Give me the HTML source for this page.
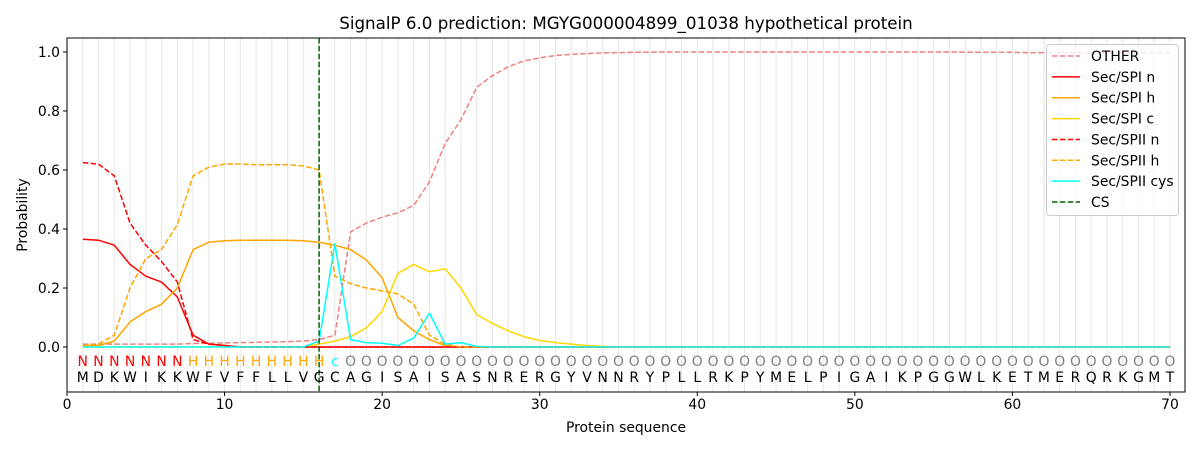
<!DOCTYPE html>
<html><head><meta charset="utf-8"><style>body{margin:0;background:#fff}svg{display:block;font-family:"DejaVu Sans","Liberation Sans",sans-serif}</style></head>
<body><svg id="s" width="1200" height="450" xmlns="http://www.w3.org/2000/svg"></svg>
<script>
const L=67,R=1185,T=38,B=392,F=13.9;
const X=v=>67+v*15.757, Y=v=>347-v*295;
let h='';
h+=`<rect x="0" y="0" width="1200" height="450" fill="#fff"/>`;
for(let i=1;i<=70;i++)h+=`<line x1="${X(i)}" y1="${T}" x2="${X(i)}" y2="${B}" stroke="#e6e6e6" stroke-width="1"/>`;
function ext(a,n){while(a.length<n)a.push(a[a.length-1]);return a;}
const other=ext([0.01,0.01,0.01,0.01,0.01,0.01,0.01,0.012,0.013,0.014,0.015,0.016,0.017,0.018,0.02,0.025,0.04,0.39,0.42,0.44,0.455,0.48,0.56,0.69,0.77,0.88,0.92,0.95,0.97,0.98,0.988,0.992,0.995,0.997,0.998,0.999,0.999,1,1,1,1,1,1,1,1,1,1,1,1,1,1,1,1,1,1,1,0.999,0.999,0.999,0.999,0.998,0.998,0.998,0.998,0.998,0.998,0.997,0.997,0.997,0.997],70);
const spin=ext([0.365,0.362,0.345,0.28,0.24,0.22,0.17,0.04,0.01,0.005,0],70);
const spih=ext([0.005,0.005,0.02,0.085,0.12,0.145,0.2,0.33,0.355,0.36,0.362,0.362,0.362,0.362,0.36,0.355,0.345,0.33,0.295,0.235,0.1,0.055,0.025,0.005,0],70);
const spic=ext([0,0,0,0,0,0,0,0,0,0,0,0,0,0,0,0.01,0.02,0.035,0.065,0.12,0.25,0.28,0.255,0.265,0.2,0.11,0.08,0.055,0.035,0.022,0.015,0.01,0.005,0.002,0],70);
const spiin=ext([0.625,0.62,0.58,0.42,0.345,0.29,0.22,0.025,0.01,0.005,0],70);
const spiih=ext([0.005,0.01,0.04,0.2,0.3,0.33,0.415,0.58,0.61,0.62,0.62,0.618,0.618,0.618,0.614,0.6,0.24,0.215,0.2,0.19,0.18,0.145,0.04,0.01,0],70);
const cys=ext([0,0,0,0,0,0,0,0,0,0,0,0,0,0,0,0.02,0.35,0.025,0.015,0.013,0.005,0.03,0.115,0.01,0.015,0.002,0],70);
function line(d,c,dash){let p=d.map((v,i)=>`${X(i+1).toFixed(1)},${Y(v).toFixed(1)}`).join(' ');
return `<polyline points="${p}" fill="none" stroke="${c}" stroke-width="1.5" ${dash?'stroke-dasharray="5.5,2.4"':''} stroke-linejoin="round"/>`;}
h+=line(other,'#f08080',1)+line(spin,'#ff0000')+line(spih,'#ffa500')+line(spic,'#ffd700')+line(spiin,'#ff0000',1)+line(spiih,'#ffa500',1)+line(cys,'#00ffff');
h+=`<line x1="${X(16)}" y1="${T}" x2="${X(16)}" y2="${B}" stroke="#006400" stroke-width="1.5" stroke-dasharray="5.5,2.4"/>`;
const seq="MDKWIKKWFVFFLLVGCAGISAISASNRERGYVNNRYPLLRKPYMELPIGAIKPGGWLKETMERQRKGMT";
for(let i=0;i<70;i++){let lab,c;if(i<7){lab='N';c='#ff0000'}else if(i<16){lab='H';c='#ffa500'}else if(i==16){lab='c';c='#00ffff'}else{lab='O';c='#808080'}
h+=`<text x="${X(i+1)}" y="366" font-size="${F}" fill="${c}" text-anchor="middle">${lab}</text>`;
h+=`<text x="${X(i+1)}" y="382" font-size="${F}" fill="#000" text-anchor="middle">${seq[i]}</text>`;}
h+=`<rect x="${L}" y="${T}" width="${R-L}" height="${B-T}" fill="none" stroke="#000" stroke-width="1"/>`;
for(let v=0;v<=70;v+=10){h+=`<line x1="${X(v)}" y1="${B}" x2="${X(v)}" y2="${B+4}" stroke="#000"/><text x="${X(v)}" y="${B+17}" font-size="${F}" text-anchor="middle">${v}</text>`;}
for(let k=0;k<=5;k++){let v=k*0.2;h+=`<line x1="${L-4}" y1="${Y(v)}" x2="${L}" y2="${Y(v)}" stroke="#000"/><text x="${L-7}" y="${Y(v)+5}" font-size="${F}" text-anchor="end">${v.toFixed(1)}</text>`;}
h+=`<text x="626" y="432" font-size="${F}" text-anchor="middle">Protein sequence</text>`;
h+=`<text transform="translate(27,215) rotate(-90)" font-size="${F}" text-anchor="middle">Probability</text>`;
h+=`<text x="626" y="29" font-size="16.7" text-anchor="middle">SignalP 6.0 prediction: MGYG000004899_01038 hypothetical protein</text>`;
h+=`<rect x="1046.5" y="44.5" width="132" height="171" rx="3" fill="#fff" fill-opacity="0.8" stroke="#ccc"/>`;
const lg=[['OTHER','#f08080',1],['Sec/SPI n','#ff0000'],['Sec/SPI h','#ffa500'],['Sec/SPI c','#ffd700'],['Sec/SPII n','#ff0000',1],['Sec/SPII h','#ffa500',1],['Sec/SPII cys','#00ffff'],['CS','#006400',1]];
lg.forEach((e,i)=>{let y=56+i*20.86;h+=`<line x1="1052" y1="${y}" x2="1080" y2="${y}" stroke="${e[1]}" stroke-width="1.5" ${e[2]?'stroke-dasharray="5.5,2.4"':''}/><text x="1091" y="${y+5}" font-size="${F}">${e[0]}</text>`;});
document.getElementById('s').innerHTML=h;
</script></body></html>
